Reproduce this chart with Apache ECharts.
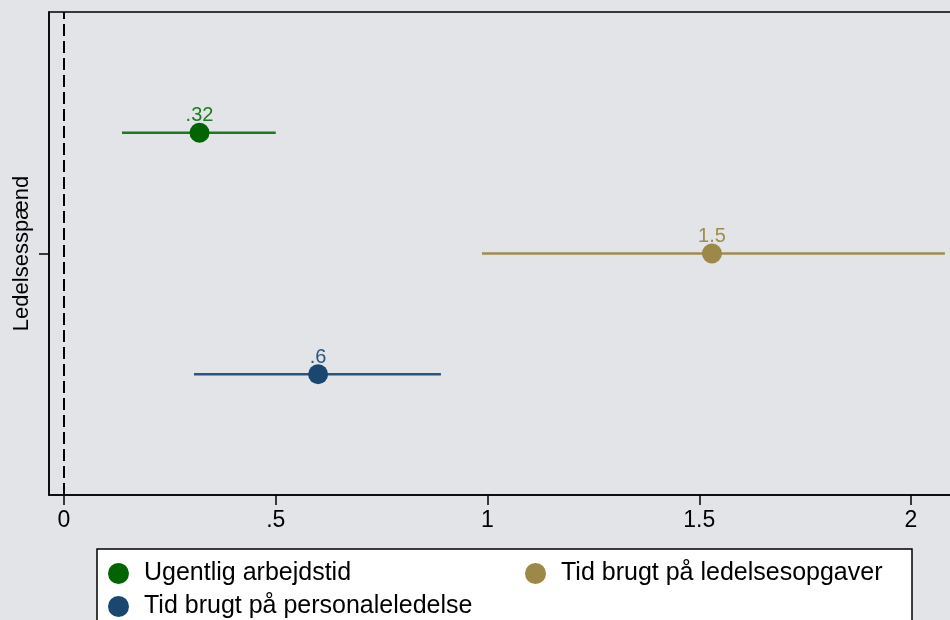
<!DOCTYPE html>
<html>
<head>
<meta charset="utf-8">
<script src="https://cdn.jsdelivr.net/npm/echarts@6/dist/echarts.min.js"></script>
<style>
html,body{margin:0;padding:0;background:#e2e4e7;}
#chart{width:950px;height:620px;}
</style>
</head>
<body>
<div id="chart"></div>
<script>
const categories = ['Ugentlig arbejdstid', 'Tid brugt på ledelsesopgaver', 'Tid brugt på personaleledelse'];
const estimates = [0.32, 1.53, 0.60];
const lower = [0.137, 0.987, 0.307];
const upper = [0.50, 2.08, 0.89];
const rowValue = [0.5, 0, -0.5];
const xTicks = [0, 0.5, 1, 1.5, 2];
const xTickLabels = ['0', '.5', '1', '1.5', '2'];
const yTicks = [0];
const yTitle = 'Ledelsesspænd';
const colors = ['#006400', '#9c8847', '#1a476f'];
const lineColors = ['#1f7a1f', '#a08c4c', '#2a5580'];

function fmt(v) {
  return Number(v.toPrecision(2)).toString().replace(/^0\./, '.');
}

const font = '"Liberation Sans", Arial, sans-serif';
const series = [];
categories.forEach((name, i) => {
  series.push({
    name: name + ' CI',
    type: 'line',
    data: [[lower[i], rowValue[i]], [upper[i], rowValue[i]]],
    showSymbol: false,
    lineStyle: { color: lineColors[i], width: 2.5 },
    silent: true,
    z: 2
  });
});
categories.forEach((name, i) => {
  series.push({
    name: name,
    type: 'scatter',
    data: [[estimates[i], rowValue[i]]],
    symbol: 'circle',
    symbolSize: 20,
    itemStyle: { color: colors[i], opacity: 1 },
    label: {
      show: true,
      position: 'top',
      distance: -3,
      formatter: p => fmt(p.value[0]),
      color: lineColors[i],
      fontSize: 20,
      fontFamily: font
    },
    z: 3
  });
});
series[0].markLine = {
  silent: true,
  symbol: 'none',
  label: { show: false },
  lineStyle: { color: '#000', type: [12, 5], width: 2 },
  data: [{ xAxis: 0 }]
};

const legendCommon = {
  orient: 'vertical',
  padding: 0,
  height: 120,
  itemWidth: 41, itemHeight: 21, itemGap: 8,
  icon: 'circle',
  itemStyle: { opacity: 1 },
  textStyle: { color: '#000', fontSize: 25, fontFamily: font, lineHeight: 21 },
  selectedMode: false
};

const chart = echarts.init(document.getElementById('chart'), null, { renderer: 'canvas' });
chart.setOption({
  backgroundColor: '#e2e4e7',
  animation: false,
  grid: {
    left: 49, top: 12, right: -20, bottom: 125,
    outerBoundsMode: 'none',
    containLabel: false,
    show: true, borderColor: '#000', borderWidth: 1.5, backgroundColor: 'transparent'
  },
  xAxis: {
    type: 'value',
    min: -15 / 423.5,
    max: -15 / 423.5 + 921 / 423.5,
    axisLine: { show: true, onZero: false, lineStyle: { color: '#000', width: 1.5 } },
    axisTick: { show: true, customValues: xTicks, length: 10, lineStyle: { color: '#000', width: 1.5 } },
    axisLabel: {
      show: true, customValues: xTicks, margin: 14,
      formatter: v => xTickLabels[xTicks.indexOf(v)] ?? '',
      color: '#000', fontSize: 23, fontFamily: font
    },
    splitLine: { show: false }
  },
  yAxis: {
    type: 'value',
    min: -1, max: 1,
    name: yTitle,
    nameLocation: 'middle',
    nameGap: 16,
    nameTextStyle: { color: '#000', fontSize: 22, fontFamily: font },
    axisLine: { show: true, onZero: false, lineStyle: { color: '#000', width: 1.5 } },
    axisTick: { show: true, customValues: yTicks, length: 10, lineStyle: { color: '#000', width: 1.5 } },
    axisLabel: { show: false },
    splitLine: { show: false }
  },
  graphic: [{
    type: 'rect',
    shape: { x: 97, y: 549, width: 815, height: 100 },
    style: { fill: '#fff', stroke: '#000', lineWidth: 1.5 },
    z: 0, silent: true
  }],
  legend: [
    Object.assign({}, legendCommon, { data: [categories[0], categories[2]], left: 108, top: 561 }),
    Object.assign({}, legendCommon, { data: [categories[1]], left: 525, top: 561 })
  ],
  series: series
});
</script>
</body>
</html>
